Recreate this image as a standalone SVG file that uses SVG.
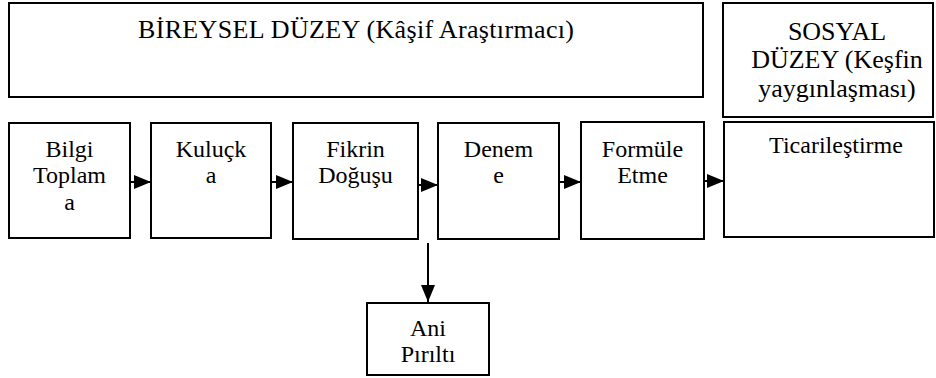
<svg xmlns="http://www.w3.org/2000/svg" width="936" height="378" viewBox="0 0 936 378" font-family="Liberation Serif, Times New Roman, serif">
<defs>
<style>
rect{fill:#fff;stroke:#000;stroke-width:2}
text{font-size:24px;fill:#000;text-anchor:middle}
.big{font-size:26px}
.c{stroke:#000;stroke-width:2;fill:none}
</style>
<marker id="ah" markerWidth="17" markerHeight="14" refX="17" refY="7" orient="auto" markerUnits="userSpaceOnUse"><path d="M0,0L17,7L0,14z" fill="#000"/></marker>
</defs>
<rect x="0" y="0" width="936" height="378" style="stroke:none"/>
<g id="bireysel"><rect x="9" y="3" width="694" height="94"/><text class="big" x="356" y="38" textLength="436" lengthAdjust="spacing">BİREYSEL DÜZEY (Kâşif Araştırmacı)</text></g>
<g id="sosyal"><rect x="723" y="3" width="210" height="114"/><text class="big" x="837" y="40">SOSYAL</text><text class="big" x="837" y="68">DÜZEY (Keşfin</text><text class="big" x="837" y="97">yaygınlaşması)</text></g>
<g id="bilgi"><rect x="9" y="123" width="121" height="115"/><text x="69.5" y="157">Bilgi</text><text x="69.5" y="183">Toplam</text><text x="69.5" y="210">a</text></g>
<g id="kulucka"><rect x="151" y="123" width="120" height="115"/><text x="211" y="157">Kuluçk</text><text x="211" y="183">a</text></g>
<g id="fikrin"><rect x="293" y="123" width="125" height="116"/><text x="355.5" y="157">Fikrin</text><text x="355.5" y="183">Doğuşu</text></g>
<g id="deneme"><rect x="438" y="123" width="121" height="116"/><text x="498.5" y="157">Denem</text><text x="498.5" y="183">e</text></g>
<g id="formule"><rect x="581" y="122" width="123" height="117"/><text x="642.5" y="157">Formüle</text><text x="642.5" y="183">Etme</text></g>
<g id="ticari"><rect x="724" y="122" width="210" height="115"/><text x="836" y="153">Ticarileştirme</text></g>
<g id="ani"><rect x="367" y="303" width="122" height="72"/><text x="428" y="336">Ani</text><text x="428" y="362">Pırıltı</text></g>
<g id="connectors">
<line class="c" x1="130" y1="182" x2="151" y2="182" marker-end="url(#ah)"/>
<line class="c" x1="271" y1="182" x2="293" y2="182" marker-end="url(#ah)"/>
<line class="c" x1="418" y1="185" x2="438" y2="185" marker-end="url(#ah)"/>
<line class="c" x1="559" y1="182" x2="581" y2="182" marker-end="url(#ah)"/>
<line class="c" x1="704" y1="181" x2="724" y2="181" marker-end="url(#ah)"/>
<line class="c" x1="428" y1="243" x2="428" y2="302" marker-end="url(#ah)"/>
</g>
</svg>
